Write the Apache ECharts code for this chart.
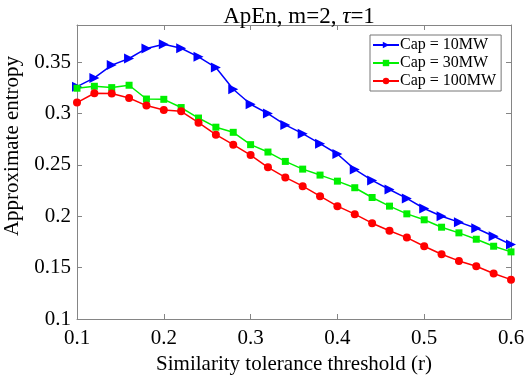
<!DOCTYPE html>
<html>
<head>
<meta charset="utf-8">
<script src="https://cdn.jsdelivr.net/npm/echarts@6/dist/echarts.min.js"></script>
<style>html,body{margin:0;padding:0;background:#fff}#c{width:526px;height:378px}</style>
</head>
<body>
<div id="c"></div>
<script>
var rValues = [0.10,0.12,0.14,0.16,0.18,0.20,0.22,0.24,0.26,0.28,0.30,0.32,0.34,0.36,0.38,0.40,0.42,0.44,0.46,0.48,0.50,0.52,0.54,0.56,0.58,0.60];
var cap10 = [0.326,0.3345,0.347,0.3534,0.3632,0.3673,0.3634,0.355,0.3446,0.3235,0.3089,0.2998,0.2888,0.2803,0.2706,0.2605,0.2455,0.2348,0.226,0.2173,0.2075,0.2,0.1942,0.1883,0.1805,0.1724];
var cap30 = [0.3245,0.3264,0.3251,0.3274,0.314,0.3137,0.3057,0.2955,0.2866,0.2816,0.2696,0.2624,0.2533,0.2458,0.24,0.2341,0.2277,0.2182,0.2098,0.2023,0.1965,0.1893,0.1838,0.1776,0.1708,0.1653];
var cap100 = [0.3105,0.3196,0.3193,0.315,0.3076,0.3033,0.302,0.291,0.2793,0.2696,0.2595,0.2475,0.2377,0.2292,0.2195,0.2098,0.202,0.1932,0.1858,0.1792,0.1708,0.163,0.1565,0.1513,0.1442,0.1383];
var seriesNames = ['Cap = 10MW','Cap = 30MW','Cap = 100MW'];
var xTicks = [0.1,0.2,0.3,0.4,0.5,0.6];
var yTicks = [0.1,0.15,0.2,0.25,0.3,0.35];

function pairs(ys){ return rValues.map(function(x,i){ return [x, ys[i]]; }); }
var font = 'Liberation Serif';
var axisGray = '#858585';
var chart = echarts.init(document.getElementById('c'));
chart.setOption({
  animation: false,
  backgroundColor: '#fff',
  title: {
    text: '{a|ApEn, m=2, }{i|τ}{a|=1}',
    left: 294, textAlign: 'center', top: 0,
    textStyle: { fontWeight: 'normal', rich: {
      a: { fontFamily: font, fontSize: 23, fontWeight: 'normal', color: '#000' },
      i: { fontFamily: font, fontSize: 23, fontWeight: 'normal', fontStyle: 'italic', color: '#000' }
    } }
  },
  grid: { left: 77, right: 15, top: 25, bottom: 59, outerBoundsMode: 'none', containLabel: false },
  legend: {
    orient: 'vertical', left: 370, top: 35,
    itemWidth: 26, itemHeight: 8, itemGap: 2,
    padding: [2, 5, 2, 2],
    borderColor: '#777', borderWidth: 1, backgroundColor: '#fff',
    textStyle: { fontFamily: font, fontSize: 16, color: '#000', padding: [0,0,0,-4] },
    data: seriesNames
  },
  xAxis: [{
    type: 'value', min: 0.1, max: 0.6, interval: 0.1,
    name: 'Similarity tolerance threshold (r)', nameLocation: 'middle', nameGap: 31,
    nameTextStyle: { fontFamily: font, fontSize: 21, color: '#000' },
    axisLine: { lineStyle: { color: axisGray } },
    axisTick: { inside: true, length: 5, lineStyle: { color: axisGray } },
    axisLabel: { fontFamily: font, fontSize: 21, color: '#000', margin: 9,
      formatter: function(v){ return xTicks.indexOf(Math.round(v*10)/10) >= 0 ? String(Math.round(v*10)/10) : ''; } },
    splitLine: { show: false }
  }, {
    type: 'value', position: 'top', min: 0.1, max: 0.6, interval: 0.1,
    axisLine: { lineStyle: { color: axisGray } },
    axisTick: { inside: true, length: 5, lineStyle: { color: axisGray } },
    axisLabel: { show: false }, splitLine: { show: false }
  }],
  yAxis: [{
    type: 'value', min: 0.1, max: 0.386, interval: 0.05,
    name: 'Approximate entropy', nameLocation: 'middle', nameGap: 54,
    nameTextStyle: { fontFamily: font, fontSize: 21, color: '#000', padding: [0,0,0,52] },
    axisLine: { show: true, lineStyle: { color: axisGray } },
    axisTick: { show: true, inside: true, length: 5, lineStyle: { color: axisGray } },
    axisLabel: { fontFamily: font, fontSize: 21, color: '#000', margin: 6, showMaxLabel: false,
      formatter: function(v){ var r = Math.round(v*100)/100; return yTicks.indexOf(r) >= 0 ? String(r) : ''; } },
    splitLine: { show: false }
  }, {
    type: 'value', position: 'right', min: 0.1, max: 0.386, interval: 0.05,
    axisLine: { show: true, lineStyle: { color: axisGray } },
    axisTick: { show: true, inside: true, length: 5, lineStyle: { color: axisGray } },
    axisLabel: { show: false }, splitLine: { show: false }
  }],
  series: [{
    name: seriesNames[0], type: 'line', data: pairs(cap10),
    symbol: 'path://M0,0 L10,5 L0,10 Z', symbolSize: [10, 10], showAllSymbol: true,
    lineStyle: { color: '#0000ff', width: 1.5 }, itemStyle: { color: '#0000ff' }
  }, {
    name: seriesNames[1], type: 'line', data: pairs(cap30),
    symbol: 'rect', symbolSize: 7,
    lineStyle: { color: '#00f000', width: 1.5 }, itemStyle: { color: '#00f000' }
  }, {
    name: seriesNames[2], type: 'line', data: pairs(cap100),
    symbol: 'circle', symbolSize: 8,
    lineStyle: { color: '#ff0000', width: 1.5 }, itemStyle: { color: '#ff0000' }
  }]
});
</script>
</body>
</html>
